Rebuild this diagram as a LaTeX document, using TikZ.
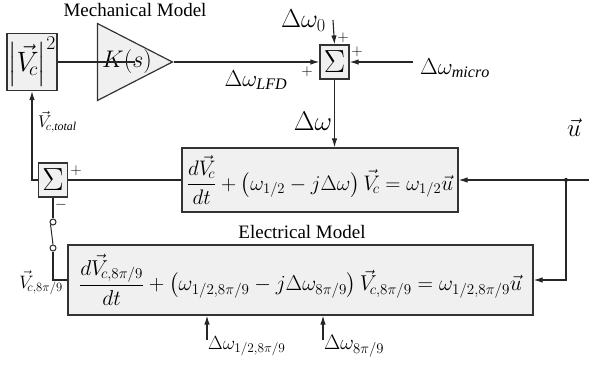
\RequirePackage{fix-cm}
\documentclass[tikz,border=0pt]{standalone}
\usepackage{amsmath}
\usepackage{fontspec}
\setmainfont{Liberation Serif}
\usetikzlibrary{arrows.meta,shapes.geometric}

\tikzset{
  blk/.style={draw=black!80, line width=1.2pt, fill=gray!12, inner sep=0pt},
  sumbox/.style={blk, minimum width=29pt, minimum height=34pt, font=\fontsize{32}{32}\selectfont},
  wire/.style={draw=black!85, line width=1.1pt},
  arr/.style={wire, -{Latex[length=9pt,width=5.5pt]}},
  sig/.style={font=\fontsize{23}{23}\selectfont, inner sep=0pt},
  sgn/.style={font=\fontsize{15}{15}\selectfont, inner sep=0pt},
  ttl/.style={font=\fontsize{19}{19}\selectfont, inner sep=0pt},
  swpin/.style={circle, draw=black!85, line width=1pt, fill=white, minimum size=6pt, inner sep=0pt}
}

\begin{document}
\begin{tikzpicture}[x=1pt,y=-1pt]
  \useasboundingbox (0,0) rectangle (589,366);
  % mechanical model
  \node[ttl] (mechttl) at (135,10) {Mechanical Model};
  \node[blk, minimum width=50pt, minimum height=57pt, font=\fontsize{28}{28}\selectfont] (vsq) at (32,62) {$\left|\vec{V}_{\!c}\right|^{2}$};
  \node[blk, isosceles triangle, isosceles triangle stretches, minimum width=77pt, minimum height=75pt,
        anchor=apex] (ks) at (174,62) {};
  \node[inner sep=0pt, font=\fontsize{24}{24}\selectfont] (kslbl) at (127,62) {$K\!\left(s\right)$};
  \node[sumbox] (sumA) at (334.5,62) {$\Sigma$};
  \coordinate (w0) at (333,20);
  \coordinate (wmic) at (413,62);
  \node[sig, font=\fontsize{26}{26}\selectfont, anchor=east] (lw0) at (326,21) {$\Delta\omega_0$};
  \node[sig] (lwmic) at (455,68) {$\Delta\omega_{\mathit{micro}}$};
  \node[sig] (llfd) at (256,80) {$\Delta\omega_{\mathit{LFD}}$};
  \node[sgn] at (307,72) {$+$};
  \node[sgn] at (343,38) {$+$};
  \node[sgn] at (357,52) {$+$};
  \draw[wire] (vsq.east) -- (ks.left side |- vsq.east);
  \draw[arr] (ks.apex) -- (sumA.west);
  \draw[arr] (w0) -- (sumA.north);
  \draw[arr] (wmic) -- (sumA.east);
  % electrical model
  \node[blk, font=\fontsize{21}{21}\selectfont, minimum width=276pt, minimum height=64pt] (eqA) at (320,180)
    {$\dfrac{d\vec{V}_{\!c}}{dt}+\left(\omega_{1/2}-j\Delta\omega\right)\vec{V}_{\!c}=\omega_{1/2}\vec{u}$};
  \node[ttl] (electtl) at (302,232) {Electrical Model};
  \node[blk, font=\fontsize{21.5}{21.5}\selectfont, minimum width=465pt, minimum height=70pt] (eqB) at (300.5,280)
    {$\dfrac{d\vec{V}_{\!c,8\pi/9}}{dt}+\left(\omega_{1/2,8\pi/9}-j\Delta\omega_{8\pi/9}\right)\vec{V}_{\!c,8\pi/9}=\omega_{1/2,8\pi/9}\vec{u}$};
  \node[sig, font=\fontsize{27}{27}\selectfont] (ldw) at (313,121) {$\Delta\omega$};
  \draw[arr] (sumA.south) -- (sumA.south |- eqA.north);
  \coordinate (uin) at (589,180);
  \fill (566,180) circle (2pt) coordinate (udot);
  \node[sig, font=\fontsize{25}{25}\selectfont] (lu) at (574,128) {$\vec{u}$};
  \draw[wire] (uin) -- (udot);
  \draw[arr] (udot) -- (eqA.east);
  \draw[arr] (udot) |- (eqB.east);
  % feedback sum and switch
  \node[sumbox] (sumB) at (53,180) {$\Sigma$};
  \node[sgn] at (76,171) {$+$};
  \node[sgn] at (61,205) {$-$};
  \node[sig, font=\fontsize{17}{17}\selectfont, anchor=west] (lvtot) at (38,122) {$\vec{V}_{\!c,\mathit{total}}$};
  \draw[wire] (eqA.west) -- (sumB.east);
  \draw[arr] (sumB.west) -| (vsq.south);
  \node[swpin] (swA) at (53,222) {};
  \node[swpin] (swB) at (53,248) {};
  \draw[wire] (sumB.south) -- (swA.north);
  \draw[wire, line width=1pt] (swA.south west) -- (swB.north);
  \draw[wire] (swB.south) |- (eqB.west);
  \node[sig, font=\fontsize{18}{18}\selectfont] (lvsub) at (41,283) {$\vec{V}_{\!c,8\pi/9}$};
  % frequency inputs
  \coordinate (dwa) at (207,340);
  \coordinate (dwb) at (323,340);
  \draw[arr] (dwa) -- (dwa |- eqB.south);
  \draw[arr] (dwb) -- (dwb |- eqB.south);
  \node[sig, font=\fontsize{19}{19}\selectfont, anchor=west] (ldwa) at (208,346) {$\Delta\omega_{1/2,8\pi/9}$};
  \node[sig, font=\fontsize{21}{21}\selectfont, anchor=west] (ldwb) at (324,346) {$\Delta\omega_{8\pi/9}$};
\end{tikzpicture}
\end{document}
